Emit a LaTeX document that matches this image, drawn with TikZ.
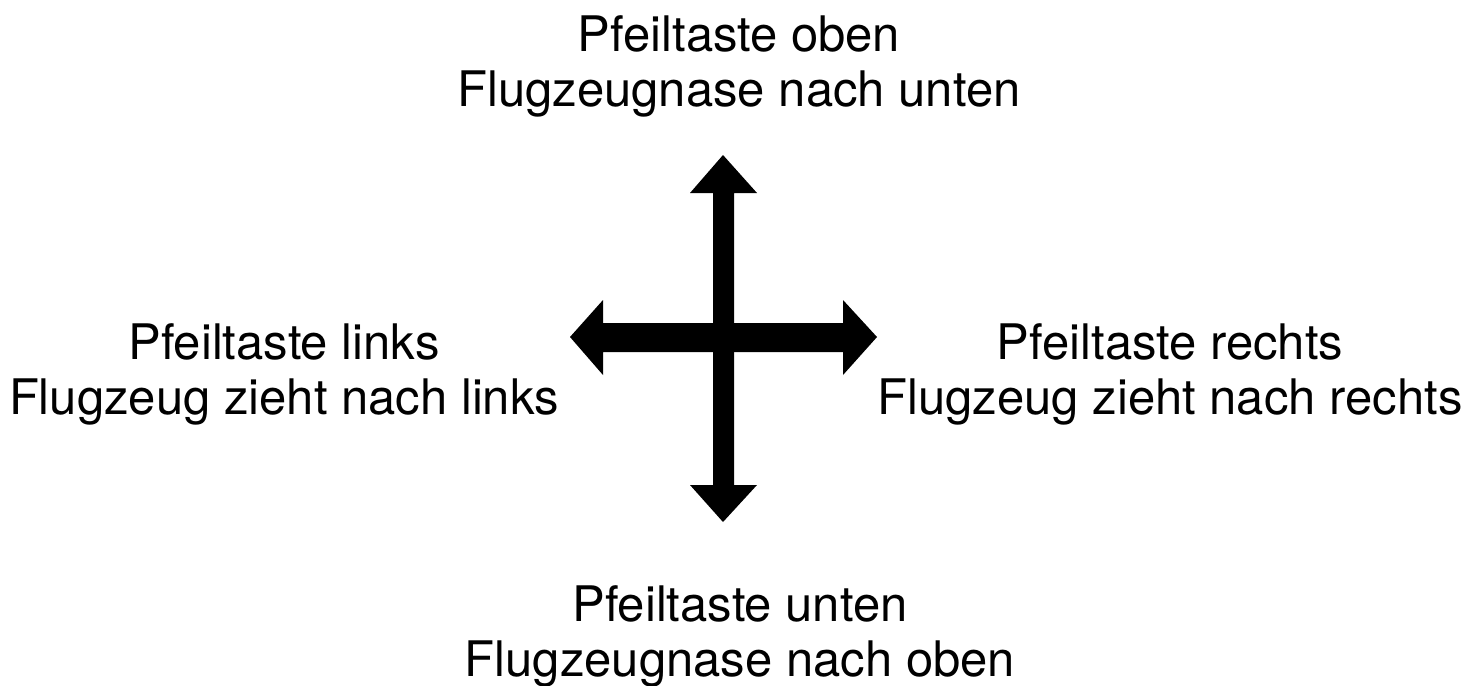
\documentclass[tikz,border=0pt]{standalone}
\usepackage{fontspec}
\setmainfont{TeX Gyre Heros}
\begin{document}
\begin{tikzpicture}[x=1pt,y=-1pt,
  lbl/.style={align=center,inner sep=0pt,font=\fontsize{49}{55}\selectfont},
  arrowshape/.style={fill=black,draw=none}]
\useasboundingbox (0,0) rectangle (1479,685);
% vertical double arrow
\fill[arrowshape] (723,155) -- (757,193) -- (734,193) -- (734,485) -- (757,485) -- (723,522)
  -- (690,485) -- (713,485) -- (713,193) -- (690,193) -- cycle;
% horizontal double arrow
\fill[arrowshape] (570,337) -- (603,300) -- (603,323) -- (843,323) -- (843,300) -- (877,337)
  -- (843,375) -- (843,352) -- (603,352) -- (603,375) -- cycle;
\node[lbl] (top) at (739,66.8) {Pfeiltaste oben\\Flugzeugnase nach unten};
\node[lbl] (left) at (284,374.8) {Pfeiltaste links\\Flugzeug zieht nach links};
\node[lbl] (right) at (1170,374.8) {Pfeiltaste rechts\\Flugzeug zieht nach rechts};
\node[lbl] (bottom) at (740,636.8) {Pfeiltaste unten\\Flugzeugnase nach oben};
\end{tikzpicture}
\end{document}
